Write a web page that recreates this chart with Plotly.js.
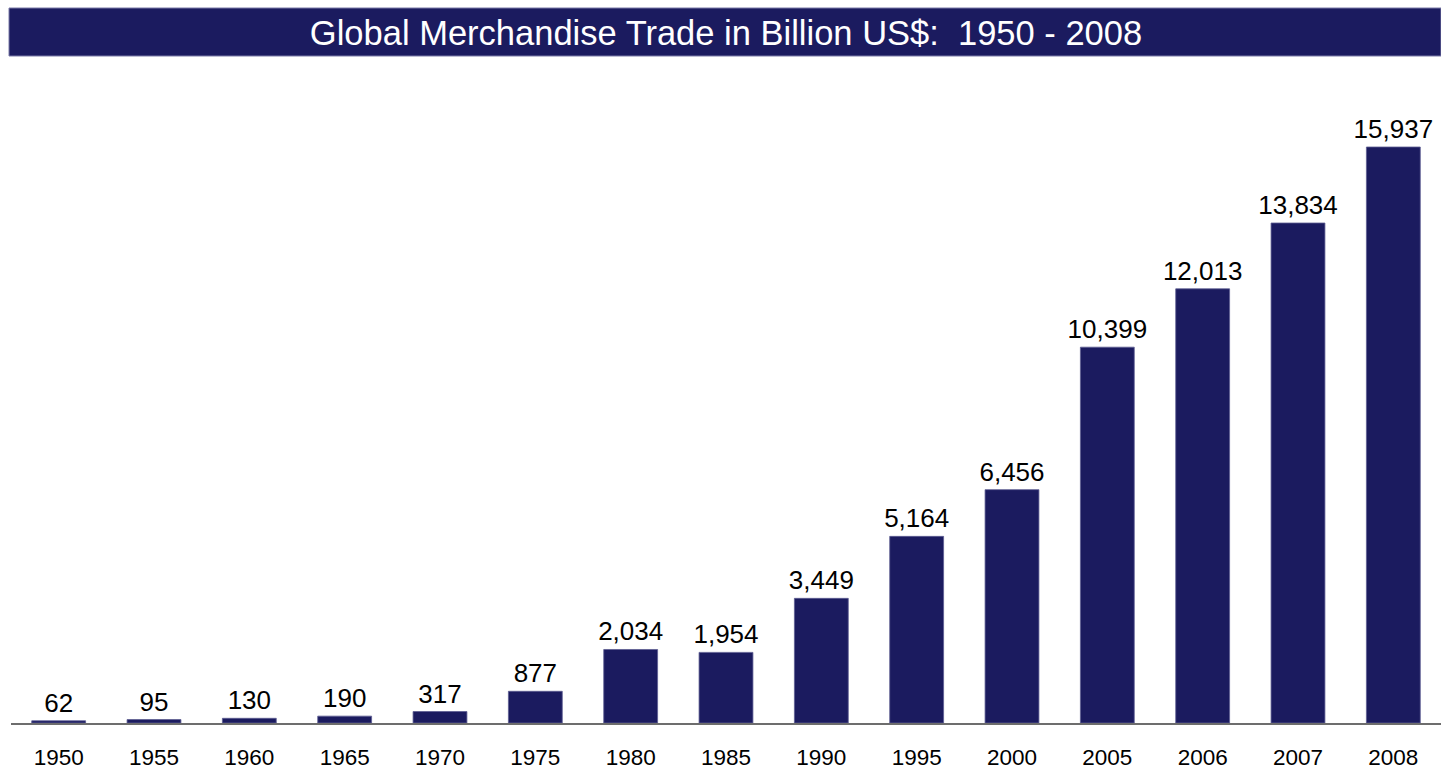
<!DOCTYPE html>
<html>
<head>
<meta charset="utf-8">
<script src="https://cdn.plot.ly/plotly-3.0.1.min.js"></script>
<style>html,body{margin:0;padding:0;background:#fff;}#chart{width:1441px;height:770px;}</style>
</head>
<body>
<div id="chart"></div>
<script>
const years = ["1950","1955","1960","1965","1970","1975","1980","1985","1990","1995","2000","2005","2006","2007","2008"];
const tradeValues = [62, 95, 130, 190, 317, 877, 2034, 1954, 3449, 5164, 6456, 10399, 12013, 13834, 15937];
const chartTitle = "Global Merchandise Trade in Billion US$:&nbsp; 1950 - 2008";

const W = 1441, H = 770;
const mT = 90, mB = 47, mL = 11, mR = 0;
const plotH = H - mT - mB;
const baseY = H - mB;
const yTop = 15937 * (baseY - mT) / (baseY - 147);

const trace = {
  type: 'bar',
  x: years,
  y: tradeValues,
  marker: {color: '#1b1b5f', line: {color: '#5d5d92', width: 0.8}},
  texttemplate: '%{y:,}',
  textposition: 'outside',
  constraintext: 'none',
  cliponaxis: false,
  textfont: {family: 'Liberation Sans, Arial, sans-serif', size: 26, color: '#000'},
  hoverinfo: 'none'
};

const layout = {
  width: W, height: H,
  margin: {l: mL, r: mR, t: mT, b: mB},
  paper_bgcolor: '#fff', plot_bgcolor: '#fff',
  bargap: 0.435,
  showlegend: false,
  font: {family: 'Liberation Sans, Arial, sans-serif', color: '#000'},
  title: {
    text: chartTitle,
    font: {family: 'Liberation Sans, Arial, sans-serif', size: 34.5, color: '#fff'},
    x: 0.5, xref: 'paper', xanchor: 'center',
    y: 1 - 33/H, yref: 'container', yanchor: 'middle'
  },
  xaxis: {
    type: 'category',
    showline: true, linecolor: '#6d6d6d', linewidth: 1.5,
    ticks: 'outside', ticklen: 13, tickcolor: 'rgba(0,0,0,0)',
    tickfont: {family: 'Liberation Sans, Arial, sans-serif', size: 22.5, color: '#000'},
    showgrid: false, zeroline: false, fixedrange: true
  },
  yaxis: {
    range: [0, yTop],
    visible: false, showgrid: false, zeroline: false, fixedrange: true
  },
  shapes: [{
    type: 'rect', xref: 'paper', yref: 'paper', layer: 'below',
    x0: (9 - mL) / (W - mL - mR), x1: 1,
    y0: (baseY - 56) / plotH, y1: (baseY - 8) / plotH,
    fillcolor: '#1b1b5f', line: {color: '#7a7aa8', width: 1}
  }]
};

Plotly.newPlot('chart', [trace], layout, {staticPlot: true, displayModeBar: false});
</script>
</body>
</html>
